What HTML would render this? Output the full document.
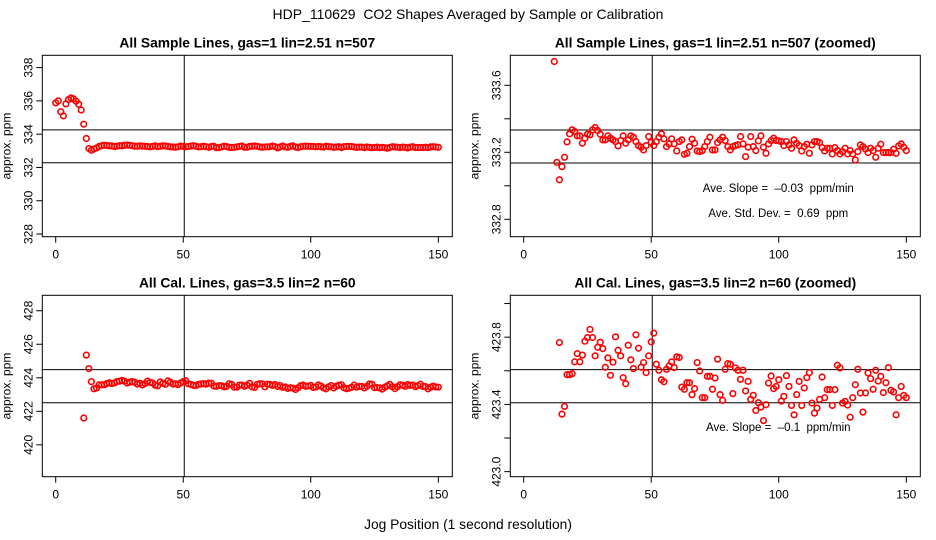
<!DOCTYPE html>
<html><head><meta charset="utf-8"><style>
html,body{margin:0;padding:0;background:#fff;}
svg{display:block;font-family:"Liberation Sans",sans-serif;}
</style></head><body>
<svg id="chart" width="936" height="540" viewBox="0 0 936 540">
<text x="468" y="19" text-anchor="middle" font-size="14">HDP_110629&#160; CO2 Shapes Averaged by Sample or Calibration</text>
<text x="468" y="529" text-anchor="middle" font-size="13.8">Jog Position (1 second resolution)</text>
</svg>
<script>
const sampleX0 = [0,1,2,3,4,5,6,7,8,9,10,11];
const sampleY0 = [335.88,336.0,335.35,335.1,335.82,336.08,336.18,336.12,335.98,335.8,335.45,334.6];
const sampleY = [333.742,333.14,333.036,333.114,333.17,333.262,333.31,333.334,333.324,333.298,333.298,333.254,333.284,333.308,333.304,333.334,333.348,333.33,333.308,333.274,333.274,333.298,333.284,333.274,333.264,333.238,333.27,333.298,333.254,333.274,333.298,333.29,333.264,333.24,333.23,333.214,333.24,333.294,333.26,333.24,333.264,333.29,333.31,333.28,333.234,333.25,333.28,333.25,333.208,333.264,333.274,333.188,333.194,333.234,333.278,333.254,333.208,333.204,333.21,333.234,333.264,333.29,333.214,333.214,333.258,333.274,333.29,333.27,333.234,333.214,333.234,333.24,333.244,333.294,333.25,333.174,333.23,333.294,333.234,333.21,333.268,333.298,333.23,333.194,333.25,333.27,333.284,333.27,333.268,333.264,333.24,333.264,333.244,333.224,333.274,333.254,333.24,333.208,333.234,333.248,333.194,333.244,333.264,333.264,333.258,333.228,333.208,333.224,333.224,333.19,333.228,333.21,333.19,333.204,333.224,333.19,333.21,333.19,333.154,333.204,333.244,333.234,333.22,333.198,333.224,333.21,333.17,333.224,333.248,333.198,333.198,333.198,333.198,333.218,333.194,333.238,333.25,333.23,333.21];
const calX0 = [11,12,13];
const calY0 = [421.6,425.35,424.55];
const calY = [423.768,423.342,423.388,423.577,423.577,423.583,423.653,423.702,423.653,423.693,423.776,423.798,423.846,423.798,423.689,423.74,423.77,423.732,423.621,423.677,423.573,423.651,423.802,423.722,423.689,423.559,423.523,423.752,423.665,423.613,423.814,423.734,423.621,423.649,423.589,423.689,423.772,423.824,423.639,423.603,423.547,423.535,423.609,423.629,423.653,423.619,423.683,423.679,423.503,423.49,423.529,423.529,423.458,423.494,423.649,423.599,423.44,423.44,423.567,423.567,423.49,423.557,423.669,423.458,423.424,423.609,423.643,423.639,423.464,423.617,423.603,423.549,423.603,423.48,423.537,423.43,423.454,423.364,423.41,423.384,423.304,423.398,423.527,423.569,423.494,423.507,423.547,423.42,423.448,423.571,423.507,423.394,423.338,423.458,423.537,423.394,423.498,423.559,423.589,423.408,423.348,423.378,423.43,423.563,423.44,423.488,423.488,423.394,423.488,423.633,423.617,423.408,423.418,423.396,423.324,423.44,423.517,423.609,423.468,423.354,423.468,423.587,423.553,423.49,423.603,423.539,423.567,423.47,423.529,423.619,423.484,423.474,423.338,423.44,423.507,423.454,423.44];
const xTicks = [0,50,100,150];
const p1Ticks = [328,330,332,334,336,338];
const p2Ticks = [332.8,333.0,333.2,333.4,333.6];
const p2Labels = ["332.8","","333.2","","333.6"];
const p3Ticks = [420,422,424,426,428];
const p4Ticks = [423.0,423.2,423.4,423.6,423.8,424.0];
const p4Labels = ["423.0","","423.4","","423.8",""];
const p1Ref = [334.26,332.28], p2Ref = [333.333,333.136], p3Ref = [424.49,422.51], p4Ref = [423.607,423.41];
const vRef = 50.4;

const NS = "http://www.w3.org/2000/svg";
const svg = document.getElementById('chart');
function mk(tag, attrs, parent){const e=document.createElementNS(NS,tag);for(const k in attrs)e.setAttribute(k,attrs[k]);(parent||svg).appendChild(e);return e;}

function panel(o){
  const g = mk('g',{});
  
  
  const L=o.left, R=o.left+410, T=o.top, B=o.top+181.4;
  const xs = v => L + 13.4 + (v)*382.6/150;
  const ys = v => B - (v - o.ymin)/(o.ymax-o.ymin)*(B-T);
  const clip = 'c'+o.name;
  const cp = mk('clipPath',{id:clip},g); mk('rect',{x:L,y:T,width:R-L,height:B-T},cp);
  const t = mk('text',{x:(L+R)/2,y:T-8,'text-anchor':'middle','font-size':13.8,'font-weight':'bold'},g);
  t.textContent=o.title;
  
  
  const box = mk('rect',{x:L,y:T,width:R-L,height:B-T,fill:'none',stroke:'#000','stroke-width':1},g);
  
  
  xTicks.forEach(v=>{
    mk('line',{x1:xs(v),x2:xs(v),y1:B,y2:B+6,stroke:'#000'},g);
    const tx=mk('text',{x:xs(v),y:B+22,'text-anchor':'middle','font-size':12},g);tx.textContent=v;
    
    
  });
  o.yt.forEach((v,i)=>{
    mk('line',{x1:L-6,x2:L,y1:ys(v),y2:ys(v),stroke:'#000'},g);
    const lab=o.yl?o.yl[i]:String(v);
    if(lab){const ty=mk('text',{x:0,y:0,'text-anchor':'middle','font-size':12,transform:`translate(${L-10},${ys(v)}) rotate(-90)`},g);ty.textContent=lab;
      
      }
  });
  const yl=mk('text',{x:0,y:0,'text-anchor':'middle','font-size':12,transform:`translate(${L-32},${(T+B)/2}) rotate(-90)`},g);yl.textContent='approx. ppm';
  
  
  o.ref.forEach(v=>{const l=mk('line',{x1:L,x2:R,y1:ys(v),y2:ys(v),stroke:'#000'},g);
    
    });
  const vl=mk('line',{x1:xs(vRef),x2:xs(vRef),y1:T,y2:B,stroke:'#000'},g);
  
  
  const pg=mk('g',{'clip-path':`url(#${clip})`},g);
  o.px.forEach((x,i)=>{
    const c=mk('circle',{cx:xs(x),cy:ys(o.py[i]),r:2.8,fill:'none',stroke:'#ff0000','stroke-width':1.6},pg);
    
    
  });
  (o.notes||[]).forEach(n=>{
    const nt=mk('text',{x:L+268,y:n[1],'text-anchor':'middle','font-size':11.5},g);nt.textContent=n[0];
    
    
  });
}
const sx = sampleX0.concat(sampleY.map((_,i)=>12+i));
const sy = sampleY0.concat(sampleY);
const cx = calX0.concat(calY.map((_,i)=>14+i));
const cy = calY0.concat(calY);
const sx2 = sampleY.map((_,i)=>12+i);
const cx2 = calY.map((_,i)=>14+i);
panel({name:'panel-sample',left:42.3,top:55.3,ymin:327.84,ymax:338.74,yt:p1Ticks,ref:p1Ref,px:sx,py:sy,title:'All Sample Lines, gas=1 lin=2.51 n=507'});
panel({name:'panel-sample-zoomed',left:510.3,top:55.3,ymin:332.696,ymax:333.779,yt:p2Ticks,yl:p2Labels,ref:p2Ref,px:sx2,py:sampleY,title:'All Sample Lines, gas=1 lin=2.51 n=507 (zoomed)',notes:[['Ave. Slope =\u00a0 \u20130.03\u00a0 ppm/min',192],['Ave. Std. Dev. =\u00a0 0.69\u00a0 ppm',217]]});
panel({name:'panel-cal',left:42.3,top:295.3,ymin:418.1,ymax:428.92,yt:p3Ticks,ref:p3Ref,px:cx,py:cy,title:'All Cal. Lines, gas=3.5 lin=2 n=60'});
panel({name:'panel-cal-zoomed',left:510.3,top:295.3,ymin:422.97,ymax:424.049,yt:p4Ticks,yl:p4Labels,ref:p4Ref,px:cx2,py:calY,title:'All Cal. Lines, gas=3.5 lin=2 n=60 (zoomed)',notes:[['Ave. Slope =\u00a0 \u20130.1\u00a0 ppm/min',431]]});
</script>
</body></html>
